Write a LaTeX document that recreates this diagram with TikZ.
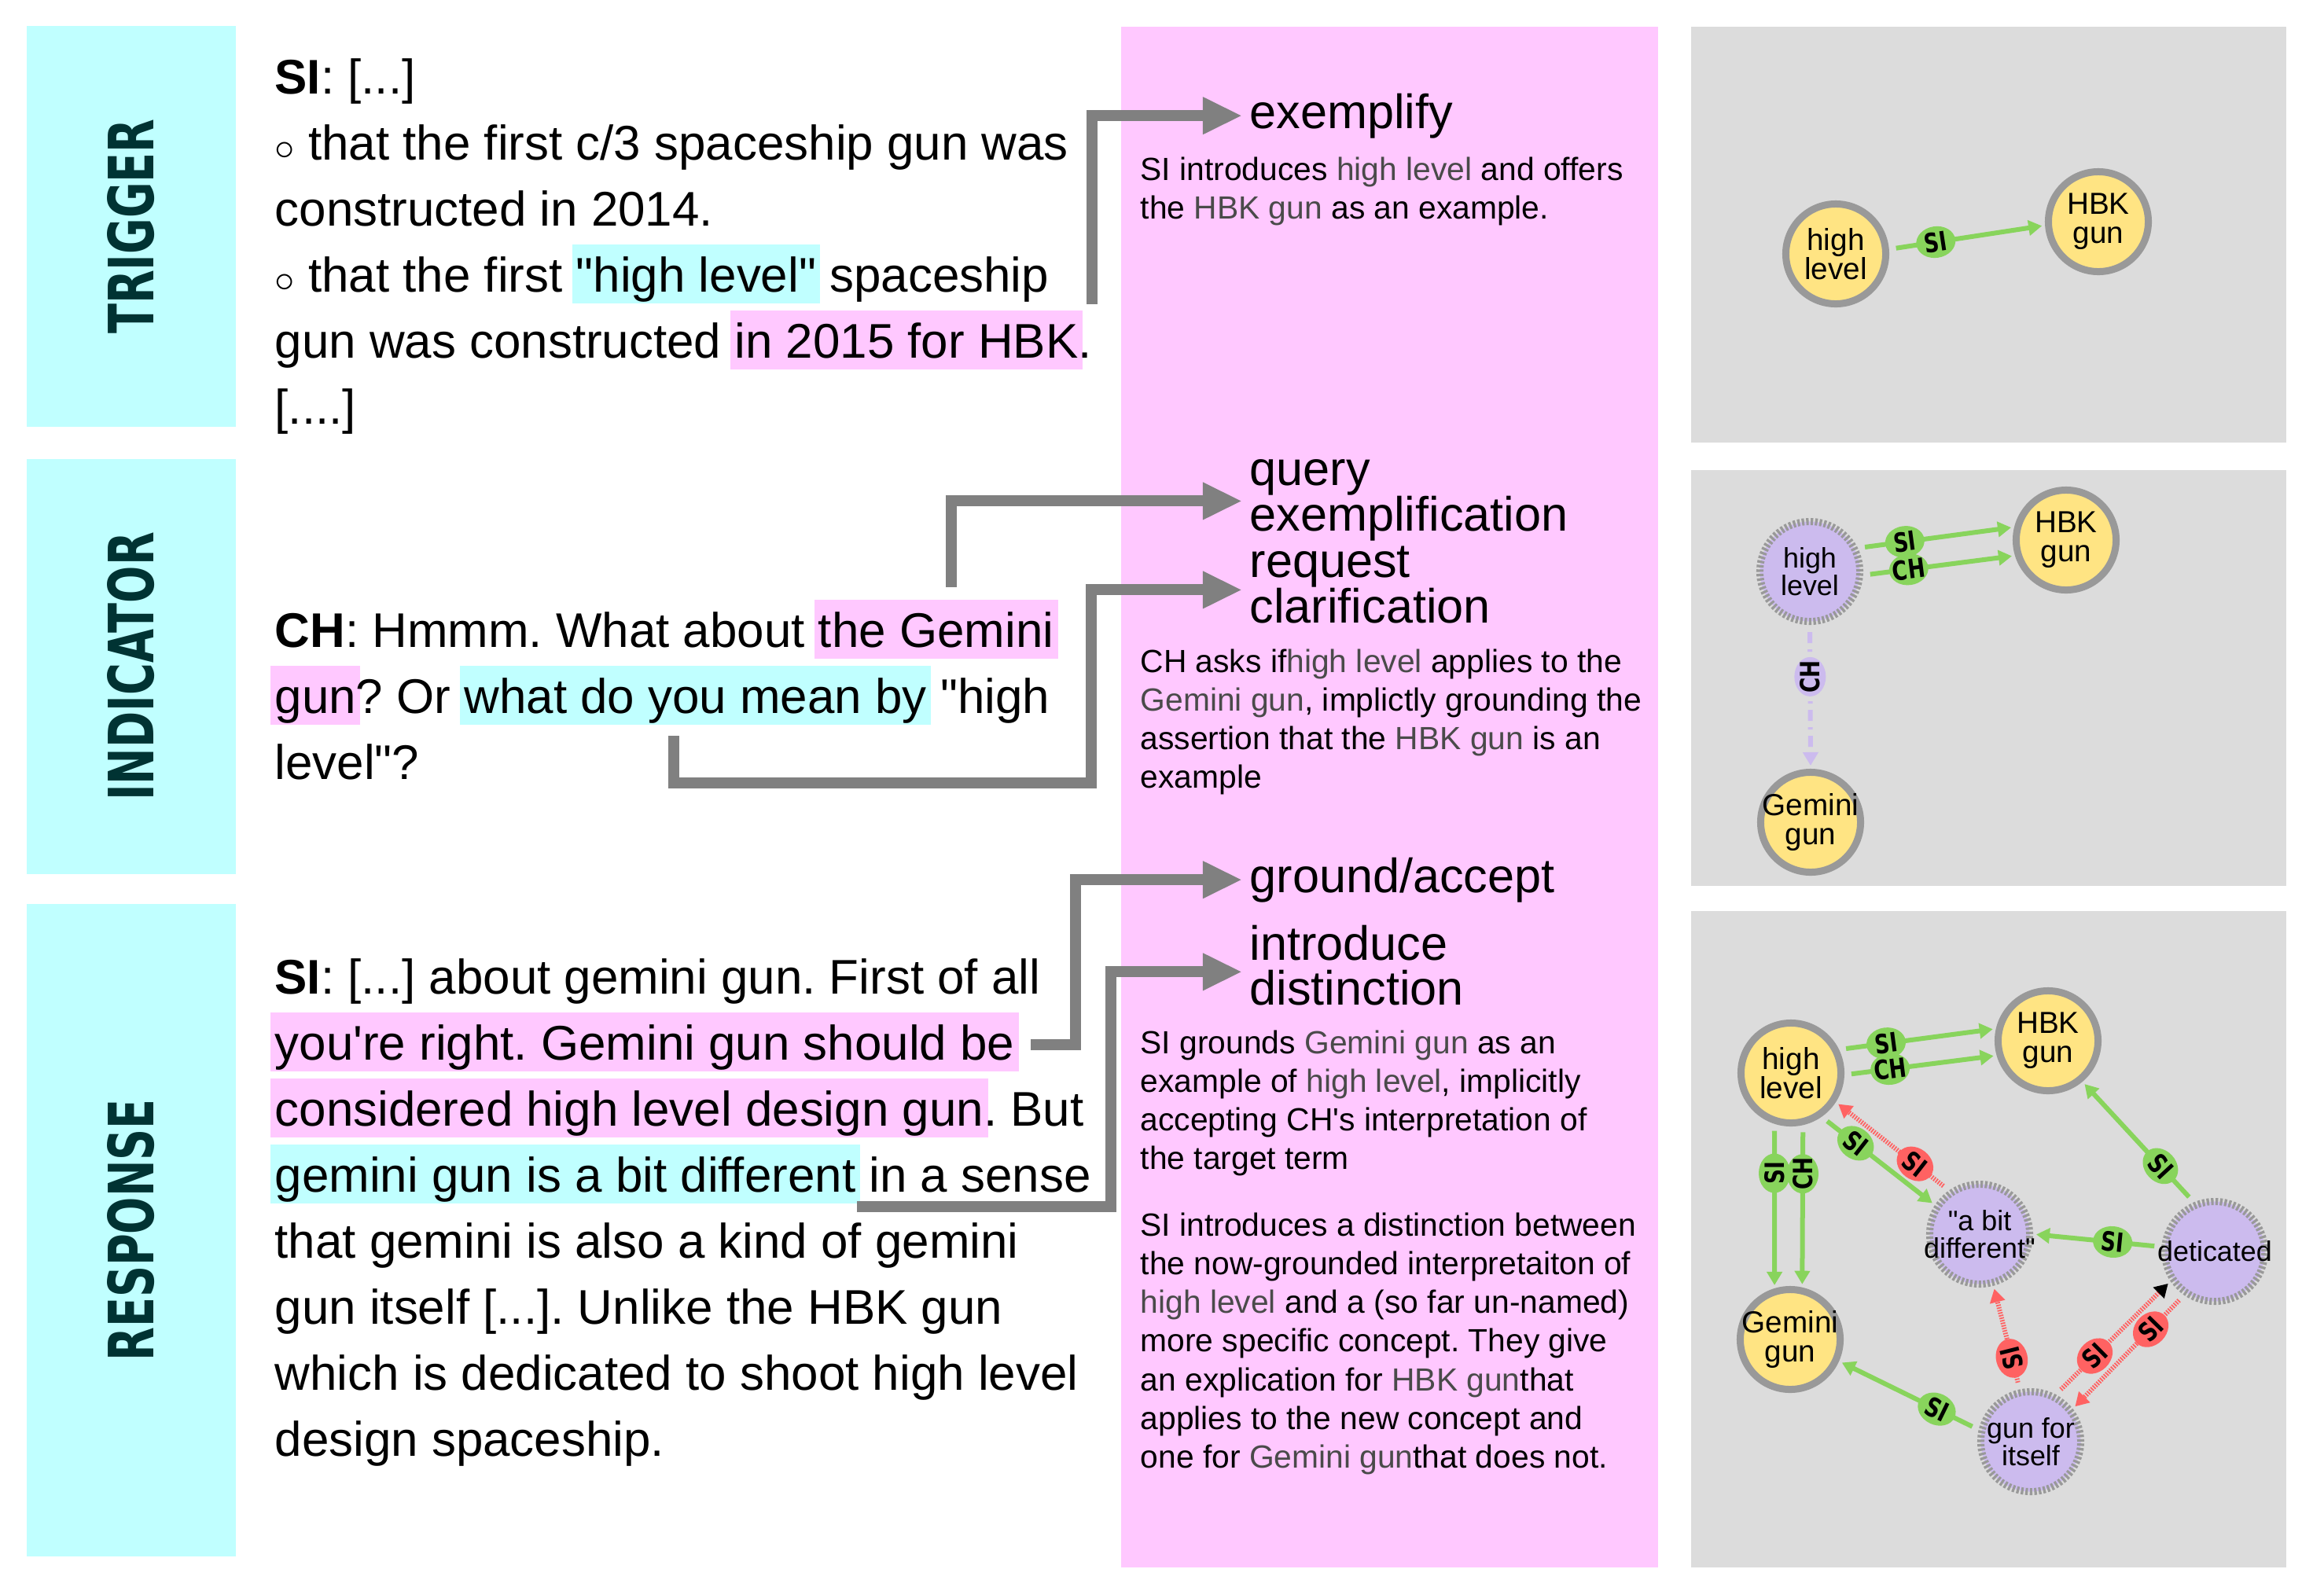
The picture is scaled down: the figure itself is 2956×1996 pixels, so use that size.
\documentclass[tikz,border=0pt]{standalone}
\usepackage{fontspec}
\setmainfont{Liberation Sans}
\newfontfamily\heavyfont{DejaVu Sans}
\usetikzlibrary{arrows.meta,shapes.geometric}

\definecolor{boxcyan}{HTML}{C0FFFF}
\definecolor{colpink}{HTML}{FFC8FF}
\definecolor{panelgray}{HTML}{DCDCDC}
\definecolor{labelteal}{HTML}{003333}
\definecolor{flowgray}{HTML}{808080}
\definecolor{conceptyellow}{HTML}{FFE483}
\definecolor{conceptpurple}{HTML}{CCBBEE}
\definecolor{rimgray}{HTML}{999999}
\definecolor{edgegreen}{HTML}{88D45C}
\definecolor{edgered}{HTML}{FF6262}
\definecolor{conceptgray}{HTML}{4A4A4A}

\newcommand{\hlword}[2]{\kern-1.5pt{\setlength{\fboxsep}{0pt}\colorbox{#1}{\kern1.5pt\rule[-0.25em]{0pt}{1.22em}#2\kern1.5pt}}\kern-1.5pt\relax}
\newcommand{\concept}[1]{\textcolor{conceptgray}{#1}}
\newcommand{\who}[1]{\scalebox{0.78}[1]{#1}}
\newcommand{\qq}{\textquotedbl}
\newcommand{\bulletmark}{{\fontsize{14}{14}\selectfont$\circ$}}

\tikzset{
  phase/.style={fill=boxcyan, text=labelteal, rotate=90, inner sep=0pt,
    font=\heavyfont\bfseries\fontsize{22.6}{23}\selectfont},
  txt/.style={anchor=base west, inner sep=0pt, font=\fontsize{17.6}{24}\selectfont},
  act/.style={anchor=base west, inner sep=0pt, font=\fontsize{17.4}{17}\selectfont},
  gloss/.style={anchor=base west, inner sep=0pt, font=\fontsize{11.6}{14}\selectfont},
  flow/.style={line width=0.14cm, flowgray, shorten >=0.09cm,
    -{Triangle[length=0.5cm,width=0.44cm]}},
  fixed/.style={circle, draw=rimgray, line width=0.09cm, fill=conceptyellow,
    minimum size=1.27cm, inner sep=-6pt, align=center,
    font=\fontsize{11}{10.5}\selectfont},
  fresh/.style={fixed, fill=conceptpurple, dash pattern=on 0.9pt off 0.7pt,
    font=\fontsize{10.2}{10}\selectfont},
  rel/.style={line width=0.06cm, draw=edgegreen, shorten <=0.09cm, shorten >=0.04cm,
    -{Triangle[length=0.17cm,width=0.19cm]}},
  relred/.style={rel, draw=edgered, dash pattern=on 0.5pt off 0.45pt},
  relpurple/.style={rel, draw=conceptpurple,
    dash pattern=on 0.14cm off 0.08cm on 0.03cm off 0.08cm},
  tag/.style={ellipse, fill=edgegreen, text=black, pos=0.3, inner sep=-2pt,
    minimum width=0.5cm, minimum height=0.4cm,
    font=\heavyfont\bfseries\fontsize{9.6}{9.6}\selectfont},
  tagred/.style={tag, fill=edgered},
}

\begin{document}
\frenchspacing
\begin{tikzpicture}[x=0.01cm, y=-0.01cm]
  \useasboundingbox (0,0) rectangle (2956,1996);

  \fill[colpink] (1426,34) rectangle (2109,1994);
  \fill[panelgray] (2151,34) rectangle (2908,563);
  \fill[panelgray] (2151,598) rectangle (2908,1127);
  \fill[panelgray] (2151,1159) rectangle (2908,1994);

  \node[phase, minimum width=5.09cm, minimum height=2.66cm] (trigger) at (167,288)
    {\scalebox{0.7}[1]{TRIGGER}};
  \node[phase, minimum width=5.28cm, minimum height=2.66cm] (indicator) at (167,848)
    {\scalebox{0.7}[1]{INDICATOR}};
  \node[phase, minimum width=8.30cm, minimum height=2.66cm] (response) at (167,1565)
    {\scalebox{0.7}[1]{RESPONSE}};

  % dialogue
  \node[txt] (trig1) at (349,119) {\textbf{SI}: [...]};
  \node[txt] (trig2) at (349,203) {\bulletmark{} that the first c/3 spaceship gun was};
  \node[txt] (trig3) at (349,287) {constructed in 2014.};
  \node[txt] (trig4) at (349,371) {\bulletmark{} that the first \hlword{boxcyan}{\qq high level\qq} spaceship};
  \node[txt] (trig5) at (349,455) {gun was constructed \hlword{colpink}{in 2015 for HBK}.};
  \node[txt] (trig6) at (349,539) {[....]};

  \node[txt] (ind1) at (349,823) {\textbf{CH}: Hmmm. What about \hlword{colpink}{the Gemini}};
  \node[txt] (ind2) at (349,907) {\hlword{colpink}{gun}? Or \hlword{boxcyan}{what do you mean by} \qq high};
  \node[txt] (ind3) at (349,991) {level\qq?};

  \node[txt] (resp1) at (349,1264) {\textbf{SI}: [...] about gemini gun. First of all};
  \node[txt] (resp2) at (349,1348) {\hlword{colpink}{you\textquotesingle re right. Gemini gun should be}};
  \node[txt] (resp3) at (349,1432) {\hlword{colpink}{considered high level design gun}. But};
  \node[txt] (resp4) at (349,1516) {\hlword{boxcyan}{gemini gun is a bit different} in a sense};
  \node[txt] (resp5) at (349,1600) {that gemini is also a kind of gemini};
  \node[txt] (resp6) at (349,1684) {gun itself [...]. Unlike the HBK gun};
  \node[txt] (resp7) at (349,1768) {which is dedicated to shoot high level};
  \node[txt] (resp8) at (349,1852) {design spaceship.};

  % dialogue acts
  \node[act] (hx) at (1589,163) {exemplify};
  \node[act] (hq1) at (1589,617) {query};
  \node[act] (hq2) at (1589,675) {exemplification};
  \node[act] (hr1) at (1589,734) {request};
  \node[act] (hr2) at (1589,792) {clarification};
  \node[act] (hg) at (1589,1135) {ground/accept};
  \node[act] (hd1) at (1589,1221) {introduce};
  \node[act] (hd2) at (1589,1278) {distinction};

  \coordinate (hbk-cue) at (1389,387);
  \coordinate (gem-cue) at (1210,747);
  \coordinate (mean-cue) at (857,936);
  \coordinate (right-cue) at (1311,1329);
  \coordinate (diff-cue) at (1090,1535);

  \draw[flow] (hbk-cue) |- (hx.west);
  \draw[flow] (gem-cue) |- ([yshift=-0.07cm]hq1.south west);
  \draw[flow] (mean-cue) -- ++(0,60) -- ++(531,0) |- ([yshift=-0.03cm]hr1.south west);
  \draw[flow] (right-cue) -- ++(57,0) |- (hg.west);
  \draw[flow] (diff-cue) -- ++(323,0) |- ([yshift=-0.14cm]hd1.south west);

  \node[gloss] (gx1) at (1450,229) {SI introduces \concept{high level} and offers};
  \node[gloss] (gx2) at (1450,278) {the \concept{HBK gun} as an example.};

  \node[gloss] (gq1) at (1450,855) {CH asks if\concept{high level} applies to the};
  \node[gloss] (gq2) at (1450,904) {\concept{Gemini gun}, implictly grounding the};
  \node[gloss] (gq3) at (1450,953) {assertion that the \concept{HBK gun} is an};
  \node[gloss] (gq4) at (1450,1002) {example};

  \node[gloss] (gg1) at (1450,1340) {SI grounds \concept{Gemini gun} as an};
  \node[gloss] (gg2) at (1450,1389) {example of \concept{high level}, implicitly};
  \node[gloss] (gg3) at (1450,1438) {accepting CH\textquotesingle s interpretation of};
  \node[gloss] (gg4) at (1450,1487) {the target term};

  \node[gloss] (gd1) at (1450,1572) {SI introduces a distinction between};
  \node[gloss] (gd2) at (1450,1621) {the now-grounded interpretaiton of};
  \node[gloss] (gd3) at (1450,1670) {\concept{high level} and a (so far un-named)};
  \node[gloss] (gd4) at (1450,1719) {more specific concept. They give};
  \node[gloss] (gd5) at (1450,1769) {an explication for \concept{HBK gun}that};
  \node[gloss] (gd6) at (1450,1818) {applies to the new concept and};
  \node[gloss] (gd7) at (1450,1867) {one for \concept{Gemini gun}that does not.};

  % concept graphs
  \node[fixed] (hl1) at (2335,323) {high\\level};
  \node[fixed] (hbk1) at (2669,282) {HBK\\gun};
  \draw[rel] (hl1.5) -- node[tag, sloped] {\who{SI}} (hbk1.184);

  \node[fresh] (hl2) at (2302,727) {high\\level};
  \node[fixed] (hbk2) at (2628,687) {HBK\\gun};
  \node[fixed] (gem2) at (2303,1046) {Gemini\\gun};
  \draw[rel] (hl2.26) -- node[tag, sloped] {\who{SI}} (hbk2.166);
  \draw[rel] (hl2.-4) -- node[tag, sloped] {\who{CH}} (hbk2.197);
  \draw[relpurple] (hl2.-90) -- node[tag, fill=conceptpurple, rotate=90, pos=0.36] {\who{CH}} (gem2.90);

  \node[fixed] (hl3) at (2278,1365) {high\\level};
  \node[fixed] (hbk3) at (2605,1324) {HBK\\gun};
  \node[fixed] (gem3) at (2277,1704) {Gemini\\gun};
  \node[fresh] (abit) at (2518,1570) {\qq a bit\\different\qq};
  \node[fresh] (det) at (2817,1592) {deticated};
  \node[fresh] (gfi) at (2583,1834) {gun for\\itself};

  \draw[rel] (hl3.26) -- node[tag, sloped] {\who{SI}} (hbk3.167);
  \draw[rel] (hl3.-2) -- node[tag, sloped] {\who{CH}} (hbk3.196);
  \draw[rel] (hl3.-108) -- node[tag, rotate=90] {\who{SI}} (gem3.107);
  \draw[rel] (hl3.-77) -- node[tag, rotate=90] {\who{CH}} (gem3.77);
  \draw[rel] (hl3.-55) -- node[tag, sloped] {\who{SI}} (abit.147);
  \draw[relred] (abit.125) -- node[tagred, sloped] {\who{SI}} (hl3.-33);
  \draw[rel] (det.113) -- node[tag, sloped] {\who{SI}} (hbk3.-50);
  \draw[rel] (det.175) -- node[tag, sloped, pos=0.38] {\who{SI}} (abit.0);
  \draw[rel] (gfi.167) -- node[tag, sloped] {\who{SI}} (gem3.-24);
  \draw[relred] (gfi.102) -- node[tagred, sloped, rotate=180] {\who{SI}} (abit.-75);
  \draw[relred, -{Triangle[length=0.17cm,width=0.19cm,black]}] (gfi.62)
    -- node[tagred, sloped, pos=0.34] {\who{SI}} (det.214);
  \draw[relred] (det.235) -- node[tagred, sloped] {\who{SI}} (gfi.38);
\end{tikzpicture}
\end{document}
